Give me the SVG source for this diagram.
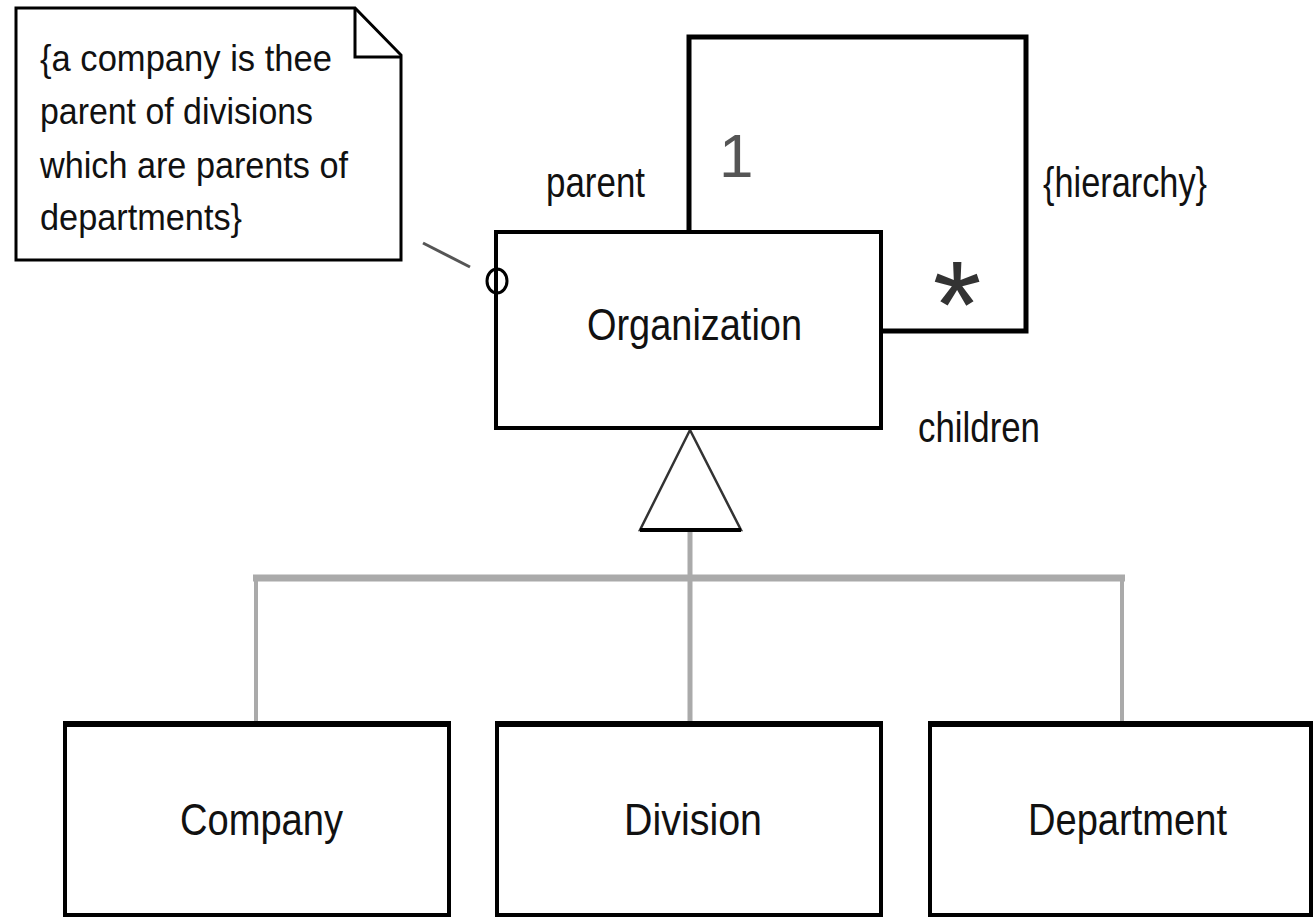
<svg xmlns="http://www.w3.org/2000/svg" width="1313" height="918" viewBox="0 0 1313 918">
<style>
.box{fill:#fff;stroke:#000;stroke-width:4}
.t{font-family:"Liberation Sans",Arial,sans-serif;fill:#111}
.gen{stroke:#aaa;fill:none}
</style>
<rect width="1313" height="918" fill="#fff"/>
<g id="connectors">
<path d="M689,232 V37 H1026 V331 H882" fill="none" stroke="#000" stroke-width="5"/>
<line x1="423" y1="243" x2="470" y2="267" stroke="#555" stroke-width="3"/>
<line class="gen" x1="690" y1="530" x2="690" y2="723" stroke-width="5"/>
<line class="gen" x1="253" y1="578" x2="1125" y2="578" stroke-width="7"/>
<line class="gen" x1="256" y1="578" x2="256" y2="723" stroke-width="4"/>
<line class="gen" x1="1122" y1="578" x2="1122" y2="723" stroke-width="4"/>
<polygon points="690,430 640,530 741,530" fill="#fff" stroke="#333" stroke-width="2.5"/>
<line x1="640" y1="530" x2="741" y2="530" stroke="#000" stroke-width="4"/>
</g>
<g id="note">
<path d="M16,8 H355 L401,55 V260 H16 Z" fill="#fff" stroke="#000" stroke-width="3"/>
<path d="M355,8 V57 H401" fill="none" stroke="#000" stroke-width="3"/>
<text class="t" font-size="37" x="40" y="71" textLength="292" lengthAdjust="spacingAndGlyphs">{a company is thee</text>
<text class="t" font-size="37" x="40" y="124" textLength="273" lengthAdjust="spacingAndGlyphs">parent of divisions</text>
<text class="t" font-size="37" x="40" y="178" textLength="308" lengthAdjust="spacingAndGlyphs">which are parents of</text>
<text class="t" font-size="37" x="40" y="230" textLength="202" lengthAdjust="spacingAndGlyphs">departments}</text>
</g>
<g id="organization">
<rect class="box" x="496" y="232" width="385" height="196"/>
<text class="t" font-size="45" x="587" y="340" textLength="215" lengthAdjust="spacingAndGlyphs">Organization</text>
<ellipse cx="497" cy="281" rx="10" ry="12" fill="none" stroke="#000" stroke-width="3"/>
</g>
<g id="labels">
<text class="t" font-size="42" x="546" y="197" textLength="99" lengthAdjust="spacingAndGlyphs">parent</text>
<text class="t" font-size="62" x="719" y="177" style="fill:#555">1</text>
<text class="t" font-size="42" x="1043" y="197" textLength="164" lengthAdjust="spacingAndGlyphs">{hierarchy}</text>
<text class="t" font-size="125" x="957" y="348" text-anchor="middle" style="fill:#333">*</text>
<text class="t" font-size="43" x="918" y="442" textLength="122" lengthAdjust="spacingAndGlyphs">children</text>
</g>
<g id="company">
<rect class="box" x="65" y="723" width="384" height="192" stroke-width="3"/>
<line x1="63" y1="724" x2="451" y2="724" stroke="#000" stroke-width="6"/>
<text class="t" font-size="45" x="180" y="835" textLength="163" lengthAdjust="spacingAndGlyphs">Company</text>
</g>
<g id="division">
<rect class="box" x="497" y="723" width="384" height="192" stroke-width="3"/>
<line x1="495" y1="724" x2="883" y2="724" stroke="#000" stroke-width="6"/>
<text class="t" font-size="45" x="624" y="835" textLength="138" lengthAdjust="spacingAndGlyphs">Division</text>
</g>
<g id="department">
<rect class="box" x="930" y="723" width="381" height="192" stroke-width="3"/>
<line x1="928" y1="724" x2="1313" y2="724" stroke="#000" stroke-width="6"/>
<text class="t" font-size="45" x="1028" y="835" textLength="199" lengthAdjust="spacingAndGlyphs">Department</text>
</g>
</svg>
